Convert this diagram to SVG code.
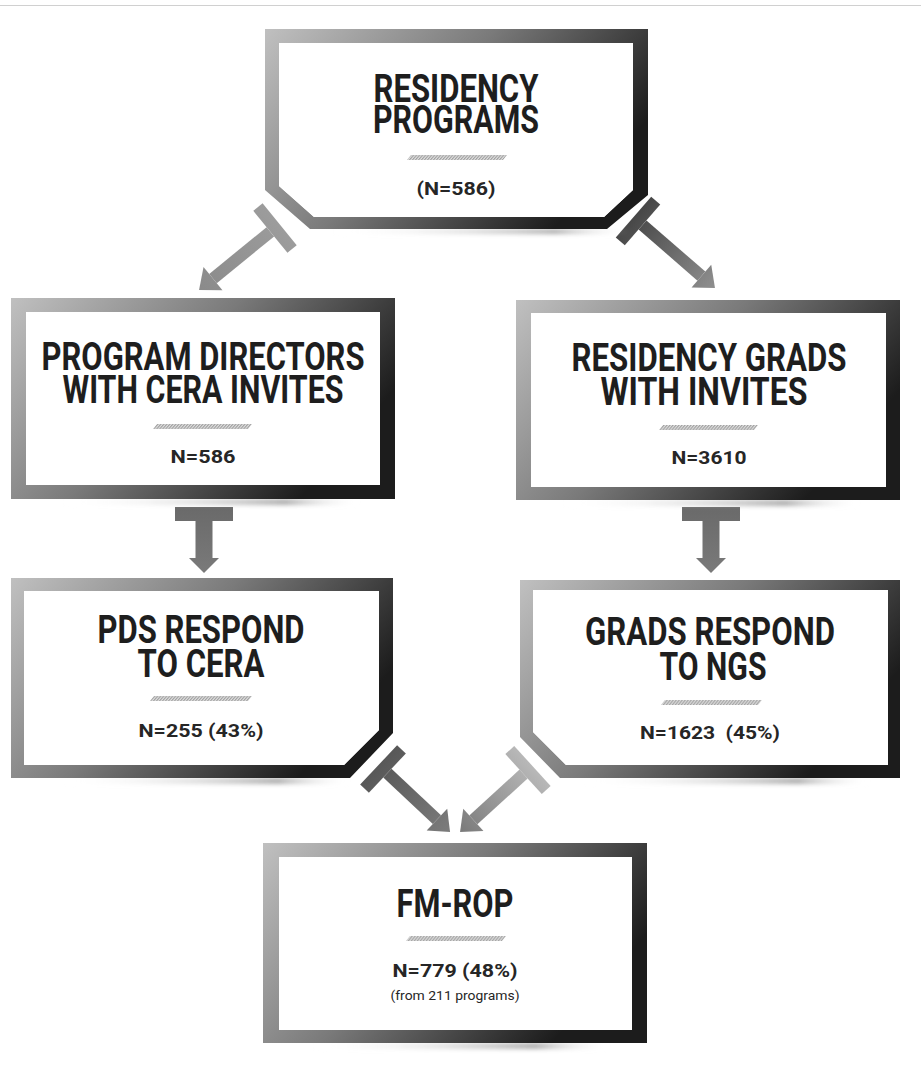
<svg xmlns="http://www.w3.org/2000/svg" width="921" height="1070" viewBox="0 0 921 1070">
<defs>
<linearGradient id="border" x1="0" y1="0" x2="1" y2="0.45">
<stop offset="0" stop-color="#c0c0c0"/>
<stop offset="0.5" stop-color="#7a7a7a"/>
<stop offset="1" stop-color="#1c1c1c"/>
</linearGradient>
<linearGradient id="shadow" x1="0" y1="0" x2="1" y2="0">
<stop offset="0" stop-color="#ffffff" stop-opacity="0"/>
<stop offset="0.75" stop-color="#8a8a8a" stop-opacity="0.7"/>
<stop offset="1" stop-color="#ffffff" stop-opacity="0"/>
</linearGradient>
<pattern id="hatch" width="3" height="6" patternUnits="userSpaceOnUse" patternTransform="skewX(-40)">
<rect width="3" height="6" fill="#dedede"/>
<rect width="1.5" height="6" fill="#a2a2a2"/>
</pattern>
<linearGradient id="g1" gradientUnits="userSpaceOnUse" x1="-6" y1="0" x2="100" y2="0"><stop offset="0" stop-color="#9c9c9c"/><stop offset="1" stop-color="#8a8a8a"/></linearGradient>
<linearGradient id="g2" gradientUnits="userSpaceOnUse" x1="-6" y1="0" x2="100" y2="0"><stop offset="0" stop-color="#474747"/><stop offset="1" stop-color="#8e8e8e"/></linearGradient>
<linearGradient id="g3" gradientUnits="userSpaceOnUse" x1="-6" y1="0" x2="60" y2="0"><stop offset="0" stop-color="#6a6a6a"/><stop offset="1" stop-color="#7a7a7a"/></linearGradient>
<linearGradient id="g5" gradientUnits="userSpaceOnUse" x1="-6" y1="0" x2="92" y2="0"><stop offset="0" stop-color="#585858"/><stop offset="1" stop-color="#7c7c7c"/></linearGradient>
<linearGradient id="g6" gradientUnits="userSpaceOnUse" x1="-6" y1="0" x2="92" y2="0"><stop offset="0" stop-color="#b8b8b8"/><stop offset="1" stop-color="#7a7a7a"/></linearGradient>
<filter id="blur" x="-10%" y="-200%" width="120%" height="500%"><feGaussianBlur stdDeviation="2"/></filter>
<style>
.frame{fill:url(#border);fill-rule:evenodd}
.inner{fill:#ffffff}
.title{font-family:Roboto,"Liberation Sans",sans-serif;font-weight:700;font-size:38px;fill:#1e1e1e;text-anchor:middle}
.num{font-family:Roboto,"Liberation Sans",sans-serif;font-weight:700;font-size:19px;fill:#262626;text-anchor:middle}
.small{font-family:Roboto,"Liberation Sans",sans-serif;font-weight:400;font-size:12px;fill:#262626;text-anchor:middle}
.hatch{fill:url(#hatch)}
.shadow{fill:url(#shadow);filter:url(#blur)}
</style>
</defs>
<rect width="921" height="1070" fill="#ffffff"/>
<line x1="0" y1="5.5" x2="921" y2="5.5" stroke="#d0d0d0" stroke-width="1"/>

<g id="connectors">
<g transform="translate(275,228) rotate(140.8)" fill="url(#g1)">
<rect x="-6" y="-27" width="12" height="54"/><rect x="6" y="-6" width="74" height="12"/><polygon points="80,-15 98,0 80,15"/>
</g>
<g transform="translate(638,221) rotate(41)" fill="url(#g2)">
<rect x="-6" y="-27" width="12" height="54"/><rect x="6" y="-6" width="78" height="12"/><polygon points="84,-15 102,0 84,15"/>
</g>
<g transform="translate(204,514) rotate(90)" fill="url(#g3)">
<rect x="-7" y="-29" width="14" height="58"/><rect x="7" y="-8.5" width="38" height="17"/><polygon points="44,-15 59,0 44,15"/>
</g>
<g transform="translate(711,514) rotate(90)" fill="url(#g3)">
<rect x="-7" y="-29" width="14" height="58"/><rect x="7" y="-8.5" width="38" height="17"/><polygon points="44,-15 59,0 44,15"/>
</g>
<g transform="translate(383,769) rotate(43.2)" fill="url(#g5)">
<rect x="-6" y="-27" width="12" height="54"/><rect x="6" y="-6" width="68" height="12"/><polygon points="74,-15 92,0 74,15"/>
</g>
<g transform="translate(528,770) rotate(137.6)" fill="url(#g6)">
<rect x="-6" y="-27" width="12" height="54"/><rect x="6" y="-6" width="68" height="12"/><polygon points="74,-15 92,0 74,15"/>
</g>
</g>

<g id="residency-programs">
<rect class="shadow" x="330" y="229" width="300" height="5"/>
<path class="frame" d="M265,29 H648 V195 L607,229 H310 L265,190 Z M279,43 V186 L314,217 H604 L633,190 V43 Z"/>
<path class="inner" d="M279,43 V186 L314,217 H604 L633,190 V43 Z"/>
<text class="title"><tspan x="456" y="102" textLength="165" lengthAdjust="spacingAndGlyphs">RESIDENCY</tspan><tspan x="456" y="133" textLength="166" lengthAdjust="spacingAndGlyphs">PROGRAMS</tspan></text>
<polygon class="hatch" points="411,155 507,155 503,160 407,160"/>
<text class="num" x="456" y="195" font-size="18" textLength="79" lengthAdjust="spacingAndGlyphs">(N=586)</text>
</g>

<g id="program-directors">
<rect class="shadow" x="60" y="499" width="300" height="6"/>
<path class="frame" d="M11,298 H395 V499 H11 Z M26,312 V485 H380 V312 Z"/>
<rect class="inner" x="26" y="312" width="354" height="173"/>
<text class="title"><tspan x="203" y="370" textLength="323" lengthAdjust="spacingAndGlyphs">PROGRAM DIRECTORS</tspan><tspan x="203" y="403" textLength="281" lengthAdjust="spacingAndGlyphs">WITH CERA INVITES</tspan></text>
<polygon class="hatch" points="157,424 252,424 248,429 153,429"/>
<text class="num" x="203" y="463" textLength="65" lengthAdjust="spacingAndGlyphs">N=586</text>
</g>

<g id="residency-grads">
<rect class="shadow" x="560" y="500" width="300" height="6"/>
<path class="frame" d="M516,300 H900 V500 H516 Z M531,313 V487 H886 V313 Z"/>
<rect class="inner" x="531" y="313" width="355" height="174"/>
<text class="title"><tspan x="709" y="371" textLength="275" lengthAdjust="spacingAndGlyphs">RESIDENCY GRADS</tspan><tspan x="704" y="405" textLength="207" lengthAdjust="spacingAndGlyphs">WITH INVITES</tspan></text>
<polygon class="hatch" points="663,425 758,425 754,430 659,430"/>
<text class="num" x="709" y="464" textLength="75" lengthAdjust="spacingAndGlyphs">N=3610</text>
</g>

<g id="pds-respond">
<rect class="shadow" x="60" y="778" width="290" height="6"/>
<path class="frame" d="M11,578 H393 V733 L350,778 H11 Z M24,591 V765 H344 L379,730 V591 Z"/>
<path class="inner" d="M24,591 V765 H344 L379,730 V591 Z"/>
<text class="title"><tspan x="201" y="643" textLength="207" lengthAdjust="spacingAndGlyphs">PDS RESPOND</tspan><tspan x="201" y="677" textLength="127" lengthAdjust="spacingAndGlyphs">TO CERA</tspan></text>
<polygon class="hatch" points="154,696 252,696 248,701 150,701"/>
<text class="num" x="201" y="737" textLength="125" lengthAdjust="spacingAndGlyphs">N=255 (43%)</text>
</g>

<g id="grads-respond">
<rect class="shadow" x="580" y="778" width="290" height="6"/>
<path class="frame" d="M520,580 H900 V778 H560 L520,737 Z M533,590 V732 L566,765 H888 V590 Z"/>
<path class="inner" d="M533,590 V732 L566,765 H888 V590 Z"/>
<text class="title"><tspan x="710" y="645" textLength="250" lengthAdjust="spacingAndGlyphs">GRADS RESPOND</tspan><tspan x="713" y="680" textLength="107" lengthAdjust="spacingAndGlyphs">TO NGS</tspan></text>
<polygon class="hatch" points="665,700 762,700 758,705 661,705"/>
<text class="num" x="710" y="739" textLength="140" lengthAdjust="spacingAndGlyphs" xml:space="preserve">N=1623  (45%)</text>
</g>

<g id="fm-rop">
<rect class="shadow" x="310" y="1043" width="300" height="6"/>
<path class="frame" d="M263,843 H647 V1043 H263 Z M279,857 V1030 H632 V857 Z"/>
<rect class="inner" x="279" y="857" width="353" height="173"/>
<text class="title" x="455" y="917" font-size="36" textLength="117" lengthAdjust="spacingAndGlyphs">FM-ROP</text>
<polygon class="hatch" points="410,936 506,936 502,941 406,941"/>
<text class="num" x="455" y="977" textLength="125" lengthAdjust="spacingAndGlyphs">N=779 (48%)</text>
<text class="small" x="455" y="1000" textLength="129" lengthAdjust="spacingAndGlyphs">(from 211 programs)</text>
</g>
</svg>
